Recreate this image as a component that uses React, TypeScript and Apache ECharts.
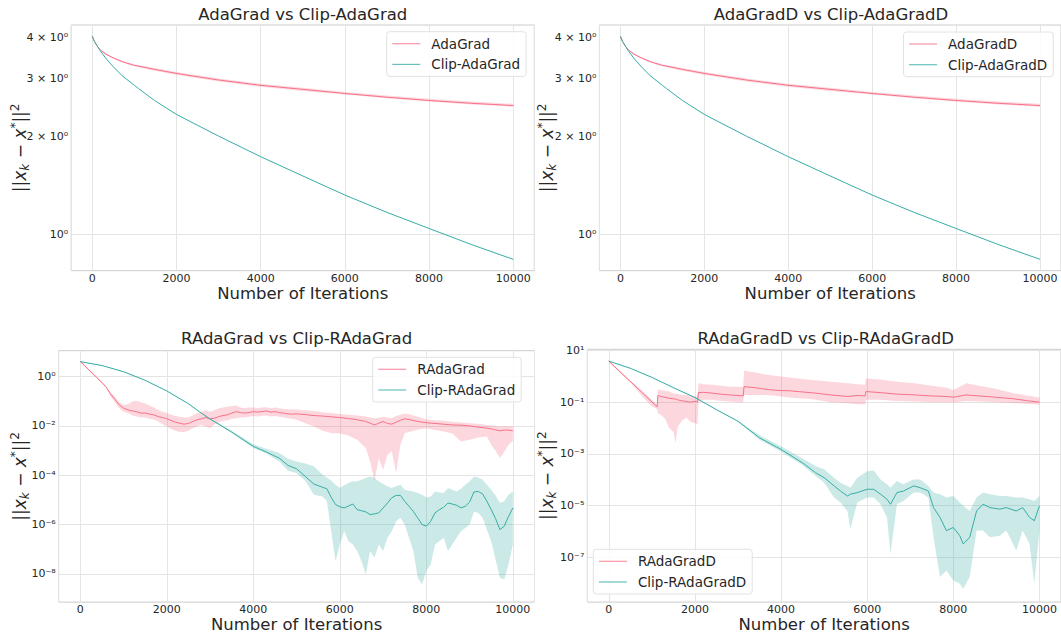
import React, { useEffect, useRef } from 'react';
import * as echarts from 'echarts';

const FONT = 'DejaVu Sans';
const TEXT = '#262626';
const PINK = '#f77189';
const TEAL = '#36ada4';
const PINK_BAND = 'rgba(247,113,137,0.28)';
const TEAL_BAND = 'rgba(54,173,164,0.26)';
const GRID = '#e4e4e4';

// ---------- top row: AdaGrad / AdaGradD (values) ----------
const topIters = [0, 50, 125, 200, 330, 500, 710, 1000, 1100, 1480, 2000, 3000, 4000, 5000, 6000, 7000, 8000, 9000, 10000];
const adagradMean = [4.04, 3.9, 3.76, 3.66, 3.56, 3.47, 3.38, 3.29, 3.275, 3.2, 3.11, 2.97, 2.86, 2.78, 2.7, 2.63, 2.57, 2.52, 2.48];
const adagradUpper = [4.05, 3.91, 3.77, 3.68, 3.58, 3.49, 3.4, 3.32, 3.3, 3.23, 3.14, 3.0, 2.89, 2.81, 2.73, 2.66, 2.6, 2.55, 2.51];
const adagradLower = [4.03, 3.89, 3.75, 3.64, 3.54, 3.45, 3.36, 3.27, 3.25, 3.17, 3.08, 2.94, 2.83, 2.75, 2.68, 2.61, 2.55, 2.5, 2.46];
const clipAdagradMean = [4.04, 3.9, 3.76, 3.63, 3.45, 3.26, 3.06, 2.86, 2.795, 2.57, 2.33, 2.0, 1.73, 1.51, 1.32, 1.168, 1.043, 0.932, 0.839];

const adagradDMean = [4.04, 3.9, 3.76, 3.66, 3.56, 3.47, 3.38, 3.29, 3.275, 3.2, 3.11, 2.97, 2.86, 2.78, 2.7, 2.63, 2.57, 2.52, 2.48];
const adagradDUpper = [4.05, 3.91, 3.77, 3.68, 3.58, 3.49, 3.4, 3.32, 3.3, 3.23, 3.14, 3.0, 2.89, 2.81, 2.73, 2.66, 2.6, 2.55, 2.51];
const adagradDLower = [4.03, 3.89, 3.75, 3.64, 3.54, 3.45, 3.36, 3.27, 3.25, 3.17, 3.08, 2.94, 2.83, 2.75, 2.68, 2.61, 2.55, 2.5, 2.46];
const clipAdagradDMean = [4.04, 3.9, 3.76, 3.63, 3.45, 3.26, 3.06, 2.86, 2.795, 2.57, 2.33, 2.0, 1.73, 1.51, 1.32, 1.168, 1.043, 0.932, 0.839];

const topTickValues = [1, 2, 3, 4];
const topTickLabels = ['10⁰', '2 × 10⁰', '3 × 10⁰', '4 × 10⁰'];
const topTickGrid = [true, false, false, false];

// ---------- bottom-left: RAdaGrad (log10 of values) ----------
const radagradIters = [
  0, 100, 200, 300, 400, 500, 600, 700, 800, 900, 1000, 1100, 1200, 1300, 1400, 1500, 1600, 1700, 1800, 1900,
  2000, 2100, 2200, 2300, 2400, 2500, 2600, 2700, 2800, 2900, 3000, 3100, 3200, 3300, 3400, 3500, 3600, 3700, 3800, 3900,
  4000, 4100, 4200, 4300, 4400, 4500, 4600, 4700, 4800, 4900, 5000, 5200, 5400, 5600, 5800, 6000, 6200, 6400, 6600, 6700,
  6800, 6900, 7000, 7100, 7200, 7300, 7400, 7500, 7600, 7800, 8000, 8200, 8400, 8600, 8800, 9000, 9200, 9400, 9500, 9600,
  9700, 9800, 9900, 10000,
];
const radagradMeanLog = [
  0.61, 0.45, 0.27, 0.1, -0.07, -0.24, -0.43, -0.71, -0.92, -1.15, -1.28, -1.35, -1.39, -1.42, -1.48, -1.48, -1.52, -1.55, -1.62, -1.66,
  -1.71, -1.78, -1.85, -1.89, -1.93, -1.9, -1.82, -1.75, -1.71, -1.66, -1.71, -1.69, -1.62, -1.58, -1.55, -1.48, -1.42, -1.46, -1.48, -1.46,
  -1.42, -1.44, -1.42, -1.39, -1.44, -1.42, -1.46, -1.48, -1.51, -1.52, -1.51, -1.54, -1.58, -1.6, -1.63, -1.66, -1.7, -1.75, -1.82, -1.89,
  -1.96, -1.89, -1.82, -1.9, -1.93, -1.85, -1.77, -1.71, -1.74, -1.82, -1.87, -1.9, -1.93, -1.96, -1.97, -2.0, -2.05, -2.09, -2.12, -2.16,
  -2.2, -2.17, -2.17, -2.2,
];
const radagradUpperLog = [
  0.64, 0.47, 0.3, 0.12, -0.04, -0.21, -0.4, -0.65, -0.82, -1.04, -1.15, -1.12, -1.01, -0.98, -1.04, -1.09, -1.17, -1.25, -1.35, -1.42,
  -1.48, -1.55, -1.6, -1.63, -1.66, -1.66, -1.58, -1.48, -1.42, -1.36, -1.42, -1.36, -1.28, -1.25, -1.21, -1.2, -1.17, -1.25, -1.28, -1.25,
  -1.25, -1.28, -1.25, -1.24, -1.28, -1.25, -1.28, -1.31, -1.32, -1.33, -1.33, -1.36, -1.39, -1.44, -1.48, -1.52, -1.55, -1.58, -1.62, -1.66,
  -1.69, -1.67, -1.63, -1.66, -1.69, -1.6, -1.55, -1.51, -1.52, -1.63, -1.73, -1.77, -1.79, -1.83, -1.86, -1.89, -1.91, -1.96, -1.97, -2.0,
  -2.02, -2.01, -2.01, -2.02,
];
const radagradLowerLog = [
  0.58, 0.42, 0.24, 0.07, -0.09, -0.27, -0.46, -0.81, -1.04, -1.28, -1.42, -1.48, -1.58, -1.62, -1.66, -1.66, -1.71, -1.74, -1.82, -1.93,
  -2.02, -2.12, -2.2, -2.25, -2.25, -2.2, -2.09, -2.02, -1.96, -2.02, -2.09, -1.93, -1.85, -1.79, -1.77, -1.71, -1.69, -1.66, -1.66, -1.63,
  -1.6, -1.62, -1.59, -1.58, -1.62, -1.6, -1.63, -1.66, -1.69, -1.71, -1.75, -1.89, -2.02, -2.2, -2.29, -2.31, -2.39, -2.56, -2.9, -3.44,
  -4.25, -3.3, -3.78, -3.17, -3.03, -3.91, -2.76, -2.29, -2.25, -2.16, -2.09, -2.17, -2.23, -2.31, -2.63, -2.56, -2.47, -2.43, -2.76, -3.01,
  -3.3, -3.06, -2.76, -2.6,
];

const clipRadagradIters = [
  0, 500, 1000, 1500, 2000, 2500, 2750, 3000, 3500, 4000, 4300, 4600, 4800, 5000, 5200, 5400, 5600,
  5700, 5800, 5900, 6000, 6100, 6200, 6300, 6400, 6500, 6600, 6700, 6800, 6900, 7000, 7100, 7200, 7300, 7400, 7500, 7600,
  7700, 7800, 7900, 8000, 8100, 8200, 8300, 8400, 8500, 8600, 8700, 8800, 8900, 9000, 9100, 9200, 9300, 9400, 9500, 9600,
  9700, 9800, 9900, 10000,
];
const clipRadagradMeanLog = [
  0.61, 0.45, 0.2, -0.15, -0.58, -1.1, -1.42, -1.72, -2.25, -2.83, -3.06, -3.31, -3.6, -3.74, -4.05, -4.36, -4.49,
  -4.55, -4.9, -5.19, -5.28, -5.33, -5.25, -5.17, -5.4, -5.44, -5.49, -5.6, -5.57, -5.53, -5.33, -5.13, -4.92, -4.82, -4.82, -5.06, -5.26,
  -5.47, -5.73, -6.0, -6.07, -5.87, -5.53, -5.4, -5.3, -5.13, -5.17, -5.22, -5.33, -5.26, -5.09, -4.68, -4.66, -4.76, -5.06, -5.4, -5.76,
  -6.21, -6.07, -5.67, -5.33,
];
const clipRadagradUpperLog = [
  0.62, 0.46, 0.21, -0.14, -0.57, -1.09, -1.41, -1.7, -2.2, -2.74, -2.93, -3.1, -3.33, -3.44, -3.52, -3.64, -3.98,
  -4.09, -4.22, -4.39, -4.52, -4.41, -4.32, -4.25, -4.25, -4.18, -4.11, -4.05, -4.11, -4.25, -4.36, -4.45, -4.52, -4.45, -4.39, -4.59, -4.63,
  -4.66, -4.72, -4.79, -4.9, -4.86, -4.66, -4.7, -4.72, -4.52, -4.59, -4.66, -4.55, -4.39, -4.25, -4.06, -4.09, -4.18, -4.39, -4.59, -4.82,
  -5.13, -5.06, -4.79, -4.66,
];
const clipRadagradLowerLog = [
  0.6, 0.44, 0.19, -0.16, -0.59, -1.11, -1.43, -1.74, -2.29, -2.9, -3.12, -3.44, -3.82, -3.91, -4.22, -4.79, -4.86,
  -5.06, -6.27, -7.49, -6.81, -6.27, -6.68, -6.81, -7.08, -7.49, -8.03, -7.08, -7.35, -6.81, -7.08, -6.54, -6.27, -5.87, -5.73, -6.0, -6.54,
  -7.08, -8.16, -8.43, -7.89, -7.62, -6.81, -6.68, -6.54, -7.08, -6.81, -6.54, -6.27, -6.14, -6.0, -5.47, -5.53, -5.73, -6.21, -6.68, -7.42,
  -8.16, -8.23, -7.62, -6.81,
];

const blTickValues = [1, 1e-2, 1e-4, 1e-6, 1e-8];
const blTickLabels = ['10⁰', '10⁻²', '10⁻⁴', '10⁻⁶', '10⁻⁸'];

// ---------- bottom-right: RAdaGradD (log10 of values) ----------
const radagradDIters = [
  0, 250, 500, 750, 1000, 1120, 1140, 1200, 1300, 1400, 1500, 1550, 1600, 1700, 1800, 1900, 2000, 2060, 2080, 2200,
  2400, 2600, 2800, 3000, 3120, 3140, 3400, 3600, 3800, 4000, 4200, 4400, 4600, 4800, 5150, 5550, 5770, 5950, 5970, 6300,
  6700, 7100, 7500, 7850, 8000, 8300, 8600, 9000, 9400, 9700, 10000,
];
const radagradDMeanLog = [
  0.59, 0.19, -0.2, -0.59, -0.99, -1.18, -0.74, -0.78, -0.81, -0.85, -0.87, -0.88, -0.91, -0.95, -0.97, -1.0, -0.97, -0.99, -0.63, -0.62,
  -0.65, -0.69, -0.72, -0.74, -0.76, -0.4, -0.44, -0.49, -0.53, -0.55, -0.56, -0.59, -0.62, -0.65, -0.72, -0.78, -0.74, -0.76, -0.59, -0.63,
  -0.69, -0.72, -0.76, -0.78, -0.81, -0.72, -0.76, -0.81, -0.87, -0.94, -1.0,
];
const radagradDUpperLog = [
  0.62, 0.23, -0.15, -0.53, -0.91, -1.1, -0.5, -0.53, -0.56, -0.59, -0.65, -0.67, -0.68, -0.72, -0.72, -0.76, -0.78, -0.79, -0.27, -0.31,
  -0.33, -0.36, -0.4, -0.4, -0.41, 0.22, 0.15, 0.08, 0.03, -0.01, -0.05, -0.08, -0.12, -0.15, -0.21, -0.27, -0.31, -0.33, -0.08, -0.12,
  -0.21, -0.27, -0.36, -0.44, -0.53, -0.27, -0.36, -0.49, -0.65, -0.74, -0.82,
];
const radagradDLowerLog = [
  0.56, 0.15, -0.24, -0.72, -1.17, -1.26, -1.42, -1.49, -1.62, -2.0, -2.15, -2.58, -1.94, -1.72, -1.59, -1.77, -1.81, -1.87, -0.97, -0.91,
  -0.91, -0.95, -0.97, -1.0, -1.0, -0.72, -0.72, -0.72, -0.74, -0.78, -0.82, -0.85, -0.87, -0.91, -1.0, -1.04, -1.08, -1.08, -0.91, -0.91,
  -0.95, -0.97, -1.0, -1.0, -1.01, -0.95, -0.97, -1.0, -1.04, -1.06, -1.1,
];

const clipRadagradDIters = [
  0, 500, 1000, 1500, 2000, 2500, 3000, 3500, 4000, 4500, 4800, 5000, 5230, 5380, 5540, 5610, 5770, 6000, 6150, 6310,
  6460, 6540, 6690, 6840, 7080, 7230, 7420, 7540, 7690, 7840, 8000, 8150, 8230, 8380, 8540, 8690, 8850, 9080, 9230, 9460,
  9610, 9770, 9880, 10000,
];
const clipRadagradDMeanLog = [
  0.59, 0.31, -0.04, -0.44, -0.82, -1.29, -1.74, -2.38, -2.83, -3.35, -3.73, -3.92, -4.24, -4.44, -4.63, -4.56, -4.5, -4.37, -4.37, -4.56,
  -4.76, -4.95, -4.5, -4.44, -4.24, -4.31, -4.44, -5.08, -5.46, -5.97, -5.85, -6.17, -6.49, -6.23, -5.21, -4.95, -5.08, -5.14, -5.08, -5.21,
  -5.08, -5.46, -5.59, -5.01,
];
const clipRadagradDUpperLog = [
  0.6, 0.32, -0.03, -0.43, -0.81, -1.28, -1.72, -2.28, -2.71, -3.18, -3.47, -3.6, -3.92, -4.12, -4.24, -4.31, -3.92, -3.67, -3.64, -3.99,
  -4.18, -4.31, -4.05, -4.18, -3.99, -3.99, -4.24, -4.5, -4.56, -4.69, -4.63, -4.88, -5.01, -5.21, -4.69, -4.5, -4.56, -4.63, -4.63, -4.69,
  -4.69, -4.76, -4.82, -4.63,
];
const clipRadagradDLowerLog = [
  0.58, 0.3, -0.05, -0.45, -0.83, -1.3, -1.76, -2.45, -2.92, -3.44, -3.86, -4.12, -4.69, -4.88, -5.21, -5.91, -4.88, -4.69, -4.69, -4.95,
  -5.46, -6.87, -4.95, -4.82, -4.5, -4.5, -4.69, -6.23, -7.77, -7.51, -7.9, -8.03, -8.22, -7.77, -5.97, -5.97, -6.23, -6.17, -5.97, -6.74,
  -5.97, -6.49, -8.03, -5.97,
];

const brTickValues = [10, 1e-1, 1e-3, 1e-5, 1e-7];
const brTickLabels = ['10¹', '10⁻¹', '10⁻³', '10⁻⁵', '10⁻⁷'];

// ---------- helpers ----------
const pts = (xs: number[], ys: number[]) => xs.map((x, i) => [x, ys[i]]);
const ptsLog = (xs: number[], ls: number[]) => xs.map((x, i) => [x, Math.pow(10, ls[i])]);
const exp10 = (ls: number[]) => ls.map((l) => Math.pow(10, l));

// shaded min/max band drawn as one polygon through the axes' own coordinate mapping
function band(key: string, xs: number[], lo: number[], up: number[], color: string, idx: number) {
  return {
    type: 'custom', name: key + ' band', xAxisIndex: idx, yAxisIndex: idx, silent: true, z: 2, clip: true,
    data: xs.map((x, i) => [x, lo[i], up[i]]),
    encode: { x: 0, y: [1, 2] },
    renderItem: (params: any, api: any) => {
      if (params.dataIndexInside !== 0) return null;
      const n = params.dataInsideLength;
      const upper: number[][] = [];
      const lower: number[][] = [];
      for (let i = 0; i < n; i++) {
        const x = api.value(0, i);
        lower.push(api.coord([x, api.value(1, i)]));
        upper.push(api.coord([x, api.value(2, i)]));
      }
      return {
        type: 'polygon',
        shape: { points: upper.concat(lower.reverse()) },
        style: { fill: color, stroke: null },
        silent: true,
      };
    },
  };
}

function meanLine(name: string, data: number[][], color: string, idx: number, extra: any = {}) {
  return {
    type: 'line', name, xAxisIndex: idx, yAxisIndex: idx, data, symbol: 'none', showSymbol: false,
    z: 3, lineStyle: { color, width: 1 }, itemStyle: { color }, ...extra,
  };
}

function gridMarks(values: number[], labels: string[], withLine: boolean[]) {
  return {
    silent: true, symbol: ['none', 'none'], z: 1, animation: false, precision: 12,
    lineStyle: { color: GRID, width: 1, type: 'solid' },
    label: { show: true, position: 'start', distance: 3, color: TEXT, fontSize: 11, fontFamily: FONT },
    emphasis: { disabled: true },
    data: values.map((v, i) => ({
      yAxis: v,
      label: { formatter: labels[i], color: TEXT },
      lineStyle: withLine[i] ? { color: GRID, width: 1 } : { color: 'rgba(0,0,0,0)', width: 0 },
    })),
  };
}

const yName = '{a|||}{i|x}{s|k}{a| − }{i|x}{p|*}{a|||}{p|2}';
const yNameStyle = {
  color: TEXT,
  fontFamily: FONT,
  rich: {
    a: { fontSize: 17, lineHeight: 22, fontFamily: FONT, color: TEXT },
    i: { fontSize: 17, lineHeight: 22, fontFamily: FONT, color: TEXT, fontStyle: 'italic' },
    s: { fontSize: 12, lineHeight: 12, fontFamily: FONT, color: TEXT, fontStyle: 'italic', verticalAlign: 'bottom' },
    p: { fontSize: 12, lineHeight: 12, fontFamily: FONT, color: TEXT, verticalAlign: 'top' },
  },
};

const grids = [
  { left: 71.2, top: 25, width: 463.1, height: 245.7 },
  { left: 599.4, top: 25, width: 463.1, height: 245.7 },
  { left: 58.7, top: 350.7, width: 475.8, height: 252 },
  { left: 587.3, top: 349.3, width: 476.9, height: 253.4 },
];
const yRanges = [
  [Math.pow(10, -0.111), Math.pow(10, 0.641)],
  [Math.pow(10, -0.111), Math.pow(10, 0.641)],
  [Math.pow(10, -9.15), Math.pow(10, 1.053)],
  [Math.pow(10, -8.737), Math.pow(10, 1.046)],
];
const yNameGaps = [40, 41, 28, 29];
const titles = ['AdaGrad vs Clip-AdaGrad', 'AdaGradD vs Clip-AdaGradD', 'RAdaGrad vs Clip-RAdaGrad', 'RAdaGradD vs Clip-RAdaGradD'];
const titlePos = [[302.7, 6], [831, 6], [296.6, 330], [825.7, 329.5]];
const legendPos = [[386.7, 31.7], [903.5, 32], [372.7, 357.3], [593.3, 549.3]];
const legendNames = [
  ['AdaGrad', 'Clip-AdaGrad'],
  ['AdaGradD', 'Clip-AdaGradD'],
  ['RAdaGrad', 'Clip-RAdaGrad'],
  ['RAdaGradD', 'Clip-RAdaGradD'],
];

function buildOption() {
  const series: any[] = [
    // top-left
    band('ada', topIters, adagradLower, adagradUpper, PINK_BAND, 0),
    meanLine('AdaGrad', pts(topIters, adagradMean), PINK, 0, { markLine: gridMarks(topTickValues, topTickLabels, topTickGrid) }),
    meanLine('Clip-AdaGrad', pts(topIters, clipAdagradMean), TEAL, 0),
    // top-right
    band('adaD', topIters, adagradDLower, adagradDUpper, PINK_BAND, 1),
    meanLine('AdaGradD', pts(topIters, adagradDMean), PINK, 1, { markLine: gridMarks(topTickValues, topTickLabels, topTickGrid) }),
    meanLine('Clip-AdaGradD', pts(topIters, clipAdagradDMean), TEAL, 1),
    // bottom-left
    band('rada', radagradIters, exp10(radagradLowerLog), exp10(radagradUpperLog), PINK_BAND, 2),
    band('crada', clipRadagradIters, exp10(clipRadagradLowerLog), exp10(clipRadagradUpperLog), TEAL_BAND, 2),
    meanLine('RAdaGrad', ptsLog(radagradIters, radagradMeanLog), PINK, 2, { markLine: gridMarks(blTickValues, blTickLabels, [true, true, true, true, true]) }),
    meanLine('Clip-RAdaGrad', ptsLog(clipRadagradIters, clipRadagradMeanLog), TEAL, 2),
    // bottom-right
    band('radaD', radagradDIters, exp10(radagradDLowerLog), exp10(radagradDUpperLog), PINK_BAND, 3),
    band('cradaD', clipRadagradDIters, exp10(clipRadagradDLowerLog), exp10(clipRadagradDUpperLog), TEAL_BAND, 3),
    meanLine('RAdaGradD', ptsLog(radagradDIters, radagradDMeanLog), PINK, 3, { markLine: gridMarks(brTickValues, brTickLabels, [true, true, true, true, true]) }),
    meanLine('Clip-RAdaGradD', ptsLog(clipRadagradDIters, clipRadagradDMeanLog), TEAL, 3),
  ];

  return {
    animation: false,
    backgroundColor: '#ffffff',
    textStyle: { fontFamily: FONT },
    title: titles.map((t, i) => ({
      text: t, left: titlePos[i][0], top: titlePos[i][1], textAlign: 'center', padding: 0,
      textStyle: { fontSize: 16.5, fontWeight: 'normal', color: TEXT, fontFamily: FONT },
    })),
    legend: legendNames.map((names, i) => ({
      data: names, orient: 'vertical', left: legendPos[i][0], top: legendPos[i][1],
      itemWidth: 28, itemHeight: 14, itemGap: 6.7, padding: [5, 6, 5, 5],
      backgroundColor: 'rgba(255,255,255,0.85)', borderColor: '#e2e2e2', borderWidth: 1, borderRadius: 3,
      selectedMode: false,
      itemStyle: { opacity: 0 },
      lineStyle: { width: 1.2, opacity: 0.75 },
      textStyle: { fontSize: 13.5, color: TEXT, fontFamily: FONT, padding: [0, 0, 0, 6] },
    })),
    grid: grids.map((g) => ({ ...g, show: true, borderColor: '#cccccc', borderWidth: 1, backgroundColor: 'transparent', containLabel: false })),
    xAxis: grids.map((_, i) => ({
      type: 'value', gridIndex: i, min: -500, max: 10500, splitNumber: 5,
      axisLine: { show: false }, axisTick: { show: false },
      axisLabel: {
        color: TEXT, fontSize: 11, fontFamily: FONT, margin: 2, showMinLabel: false, showMaxLabel: false,
        formatter: (v: number) => String(v),
      },
      splitLine: { show: true, lineStyle: { color: GRID, width: 1 } },
      name: 'Number of Iterations', nameLocation: 'middle', nameGap: 11,
      nameTextStyle: { fontSize: 16.5, color: TEXT, fontFamily: FONT },
    })),
    yAxis: grids.map((_, i) => ({
      type: 'log', logBase: 10, gridIndex: i, min: yRanges[i][0], max: yRanges[i][1],
      axisLine: { show: false }, axisTick: { show: false }, axisLabel: { show: false },
      splitLine: { show: false }, minorTick: { show: false }, minorSplitLine: { show: false },
      name: yName, nameLocation: 'middle', nameGap: yNameGaps[i], nameRotate: 90,
      nameTextStyle: yNameStyle,
    })),
    series,
  };
}

export default function App() {
  const ref = useRef<HTMLDivElement>(null);
  useEffect(() => {
    if (!ref.current) return;
    const chart = echarts.init(ref.current, undefined, { renderer: 'svg' });
    chart.setOption(buildOption() as any);
    return () => chart.dispose();
  }, []);
  return (
    <div
      ref={ref}
      style={{ position: 'fixed', left: 0, top: 0, width: 1061, height: 634, background: '#fff' }}
    />
  );
}
